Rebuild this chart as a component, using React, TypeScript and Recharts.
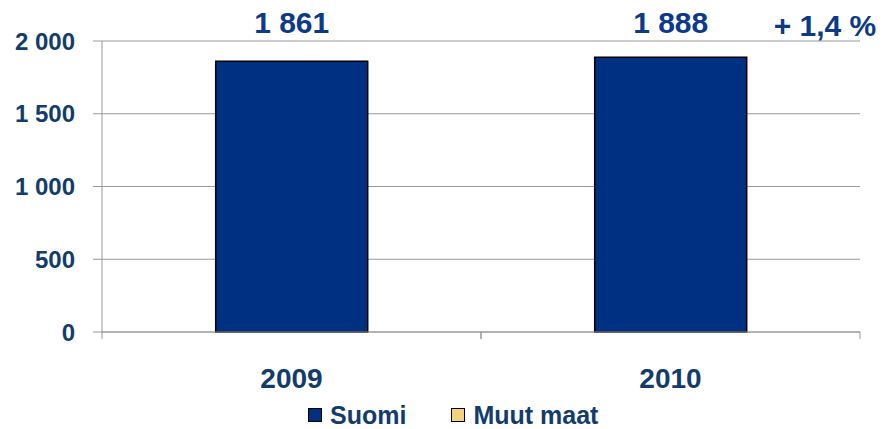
import React from 'react';
import {
  BarChart,
  Bar,
  XAxis,
  YAxis,
  CartesianGrid,
  Legend,
  LabelList
} from 'recharts';

// Chart data
const years = ['2009', '2010'];
const suomi = [1861, 1888];
const muutMaat = [0, 0];
const yTicks = [0, 500, 1000, 1500, 2000];
const growthLabel = '+ 1,4 %';

const series = [
  { key: 'suomi', name: 'Suomi', color: '#003082' },
  { key: 'muut', name: 'Muut maat', color: '#F2D27A' }
];

const data = years.map((year, i) => ({
  year,
  suomi: suomi[i],
  muut: muutMaat[i],
  total: suomi[i] + muutMaat[i]
}));

const FONT = '"Liberation Sans", Arial, sans-serif';
const AXIS_TEXT = '#123C6C';
const LABEL_TEXT = '#0D3A88';
const AXIS_GRAY = '#999999';

// "2 000" style thousands grouping
const fmt = (v: number) => String(v).replace(/\B(?=(\d{3})+(?!\d))/g, ' ');

const YearTick = (props: any) => {
  const { x, y, payload, width } = props;
  const half = (width || 758) / years.length / 2;
  return (
    <g>
      <line x1={x - half} y1={y} x2={x - half} y2={y + 7} stroke={AXIS_GRAY} />
      <line x1={x + half} y1={y} x2={x + half} y2={y + 7} stroke={AXIS_GRAY} />
      <text
        x={x}
        y={y + 56}
        textAnchor="middle"
        fill={AXIS_TEXT}
        fontFamily={FONT}
        fontWeight="bold"
        fontSize={28}
      >
        {payload.value}
      </text>
    </g>
  );
};

const ValueLabel = (props: any) => {
  const vb = props.viewBox && props.viewBox.width !== undefined ? props.viewBox : props;
  const cx = vb.x + vb.width / 2;
  return (
    <g>
      <text
        x={cx}
        y={33}
        textAnchor="middle"
        fill={LABEL_TEXT}
        fontFamily={FONT}
        fontWeight="bold"
        fontSize={30}
      >
        {fmt(props.value)}
      </text>
      {props.index === years.length - 1 && (
        <text
          x={vb.x + vb.width + 27}
          y={36}
          textAnchor="start"
          fill={LABEL_TEXT}
          fontFamily={FONT}
          fontWeight="bold"
          fontSize={30}
        >
          {growthLabel}
        </text>
      )}
    </g>
  );
};

const LegendContent = () => (
  <div
    style={{
      height: 28,
      display: 'flex',
      alignItems: 'center',
      paddingLeft: 308,
      fontFamily: FONT,
      fontWeight: 'bold',
      fontSize: 25,
      color: AXIS_TEXT
    }}
  >
    {series.map((s) => (
      <div key={s.key} style={{ display: 'flex', alignItems: 'center', marginRight: 45 }}>
        <span
          style={{
            width: 12,
            height: 12,
            background: s.color,
            border: '1px solid #000',
            marginRight: 8,
            display: 'inline-block'
          }}
        />
        <span>{s.name}</span>
      </div>
    ))}
  </div>
);

export default function App() {
  return (
    <div style={{ position: 'absolute', left: 0, top: 0, width: 885, height: 429, background: '#fff' }}>
      <BarChart
        width={885}
        height={429}
        data={data}
        margin={{ top: 41, right: 25, left: 0, bottom: 0 }}
        barCategoryGap="30%"
      >
        <CartesianGrid vertical={false} stroke={AXIS_GRAY} />
        <XAxis
          dataKey="year"
          height={69}
          tickSize={0}
          tickMargin={0}
          tickLine={false}
          axisLine={{ stroke: AXIS_GRAY }}
          tick={<YearTick />}
        />
        <YAxis
          width={102}
          domain={[0, 2000]}
          ticks={yTicks}
          tickFormatter={fmt}
          tickSize={9}
          tickMargin={18}
          axisLine={{ stroke: AXIS_GRAY }}
          tickLine={{ stroke: AXIS_GRAY }}
          tick={{ fill: AXIS_TEXT, fontFamily: FONT, fontWeight: 'bold', fontSize: 24 }}
        />
        <Legend
          verticalAlign="bottom"
          content={<LegendContent />}
          wrapperStyle={{ left: 0, width: 885 }}
        />
        <Bar
          dataKey="suomi"
          name="Suomi"
          stackId="a"
          fill={series[0].color}
          stroke="#000"
          strokeWidth={1.5}
          isAnimationActive={false}
        >
          <LabelList dataKey="total" content={<ValueLabel />} />
        </Bar>
        <Bar
          dataKey="muut"
          name="Muut maat"
          stackId="a"
          fill={series[1].color}
          stroke="#000"
          strokeWidth={1.5}
          isAnimationActive={false}
        />
      </BarChart>
    </div>
  );
}
